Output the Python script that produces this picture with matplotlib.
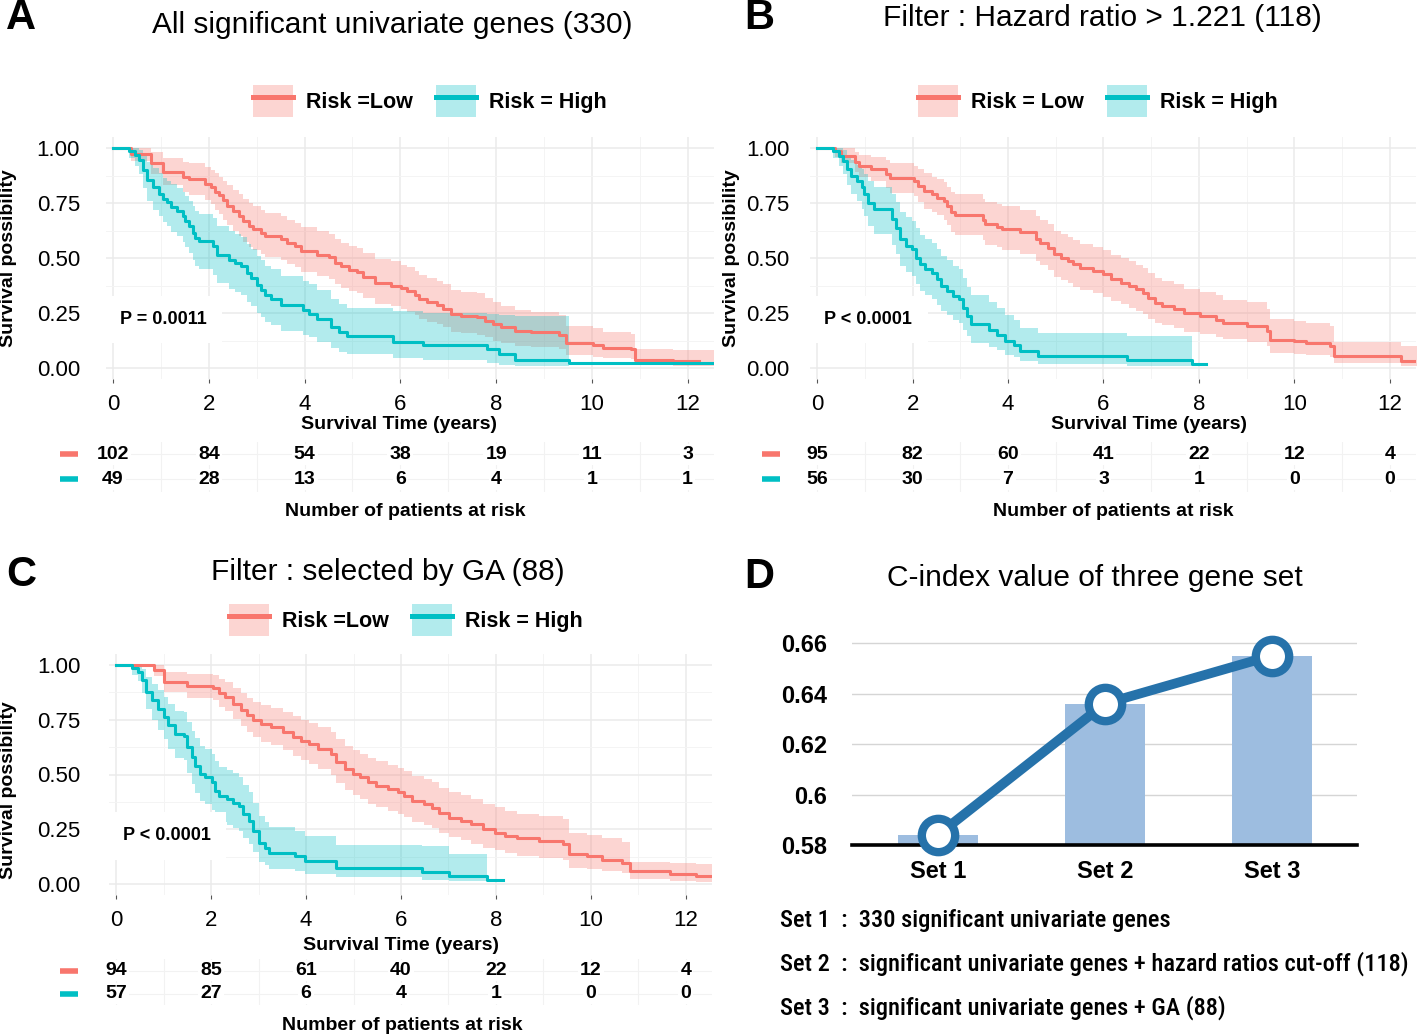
import numpy as np
import matplotlib
matplotlib.use('Agg')
import matplotlib.pyplot as plt
from matplotlib.patches import Patch
from matplotlib.lines import Line2D
from matplotlib.legend_handler import HandlerTuple
from matplotlib.ticker import FormatStrFormatter
from matplotlib import font_manager

# ---------------- data ----------------
risk_times = [0, 2, 4, 6, 8, 10, 12]

# Panel A
A_low_t = [0, 0.38, 0.79, 1.04, 1.46, 1.59, 1.92, 2.05, 2.13, 2.21, 2.30, 2.38, 2.50, 2.63, 2.71, 2.84, 2.92,
           3.09, 3.17, 3.51, 3.63, 3.80, 3.92, 4.26, 4.51, 4.63, 4.76, 4.93, 5.09, 5.22, 5.47, 5.80, 6.01,
           6.14, 6.30, 6.39, 6.55, 6.76, 6.89, 7.05, 7.26, 7.60, 7.76, 7.93, 8.10, 8.39, 8.72, 9.31, 9.47,
           10.02, 10.23, 10.81, 10.89, 11.69]
A_low_s = [1.0, 0.972, 0.931, 0.892, 0.869, 0.857, 0.838, 0.823, 0.800, 0.785, 0.762, 0.738, 0.715, 0.692, 0.669,
           0.646, 0.631, 0.615, 0.600, 0.585, 0.569, 0.554, 0.531, 0.515, 0.503, 0.477, 0.462, 0.446, 0.438, 0.415,
           0.385, 0.374, 0.362, 0.349, 0.331, 0.315, 0.300, 0.285, 0.269, 0.246, 0.238, 0.231, 0.215, 0.200, 0.185,
           0.169, 0.162, 0.149, 0.115, 0.105, 0.092, 0.085, 0.038, 0.031]
A_low_lo = [1.0, 0.94, 0.88, 0.83, 0.80, 0.785, 0.765, 0.745, 0.72, 0.70, 0.675, 0.65, 0.625, 0.60, 0.575, 0.55,
            0.535, 0.52, 0.505, 0.49, 0.475, 0.46, 0.435, 0.42, 0.405, 0.38, 0.365, 0.35, 0.34, 0.32, 0.29, 0.28,
            0.27, 0.255, 0.24, 0.225, 0.21, 0.20, 0.185, 0.165, 0.16, 0.15, 0.14, 0.125, 0.115, 0.10, 0.095, 0.085,
            0.06, 0.05, 0.045, 0.04, 0.012, 0.008]
A_low_hi = [1.0, 1.0, 0.98, 0.955, 0.935, 0.93, 0.915, 0.90, 0.885, 0.87, 0.85, 0.83, 0.81, 0.79, 0.77, 0.75,
            0.735, 0.72, 0.705, 0.69, 0.675, 0.66, 0.64, 0.625, 0.61, 0.585, 0.57, 0.555, 0.545, 0.525, 0.495,
            0.485, 0.47, 0.46, 0.44, 0.425, 0.41, 0.395, 0.38, 0.355, 0.345, 0.34, 0.32, 0.30, 0.28, 0.265, 0.255,
            0.24, 0.19, 0.18, 0.165, 0.155, 0.085, 0.08]
A_low_end, A_low_band_end = 12.23, 12.55

A_high_t = [0, 0.33, 0.46, 0.54, 0.63, 0.71, 0.84, 0.96, 1.04, 1.13, 1.21, 1.34, 1.46, 1.50, 1.59, 1.67, 1.71,
            1.80, 2.09, 2.17, 2.42, 2.55, 2.67, 2.80, 2.88, 3.01, 3.09, 3.17, 3.30, 3.51, 3.97, 4.09, 4.26, 4.55,
            4.72, 4.88, 5.84, 6.47, 7.81, 8.06, 8.39, 9.52]
A_high_s = [1.0, 0.985, 0.969, 0.946, 0.90, 0.854, 0.823, 0.792, 0.769, 0.754, 0.731, 0.715, 0.692, 0.669, 0.646,
            0.615, 0.592, 0.577, 0.554, 0.515, 0.492, 0.477, 0.462, 0.431, 0.408, 0.377, 0.354, 0.331, 0.315, 0.285,
            0.262, 0.246, 0.223, 0.185, 0.162, 0.146, 0.118, 0.103, 0.085, 0.062, 0.038, 0.023]
A_high_lo = [1.0, 0.955, 0.92, 0.88, 0.82, 0.76, 0.72, 0.69, 0.665, 0.645, 0.62, 0.60, 0.575, 0.55, 0.525, 0.49,
             0.465, 0.45, 0.425, 0.385, 0.36, 0.345, 0.33, 0.30, 0.28, 0.25, 0.23, 0.21, 0.195, 0.17, 0.15, 0.14,
             0.12, 0.09, 0.075, 0.065, 0.045, 0.035, 0.025, 0.015, 0.008, 0.023]
A_high_hi = [1.0, 1.0, 1.0, 0.99, 0.965, 0.935, 0.91, 0.885, 0.865, 0.85, 0.835, 0.82, 0.80, 0.78, 0.76, 0.735,
             0.715, 0.70, 0.68, 0.645, 0.625, 0.61, 0.595, 0.565, 0.54, 0.51, 0.49, 0.465, 0.45, 0.42, 0.395, 0.38,
             0.355, 0.315, 0.29, 0.275, 0.26, 0.25, 0.245, 0.24, 0.235, 0.023]
A_high_end, A_high_band_end = 12.55, 9.52

A_risk_low = [102, 84, 54, 38, 19, 11, 3]
A_risk_high = [49, 28, 13, 6, 4, 1, 1]

# Panel B
B_low_t = [0, 0.37, 0.50, 0.79, 0.87, 1.12, 1.45, 1.53, 2.03, 2.11, 2.23, 2.40, 2.52, 2.65, 2.73, 2.81, 2.89,
           3.47, 3.51, 3.76, 3.88, 4.26, 4.59, 4.67, 4.84, 4.96, 5.12, 5.25, 5.37, 5.50, 5.79, 5.99, 6.16, 6.36,
           6.53, 6.69, 6.82, 6.94, 7.07, 7.23, 7.48, 7.69, 8.02, 8.35, 8.51, 9.01, 9.42, 9.50, 10.0, 10.25,
           10.74, 10.83, 12.23]
B_low_s = [1.0, 0.985, 0.965, 0.935, 0.92, 0.904, 0.881, 0.862, 0.851, 0.828, 0.805, 0.79, 0.775, 0.76, 0.737,
           0.707, 0.695, 0.673, 0.653, 0.643, 0.631, 0.618, 0.585, 0.57, 0.547, 0.517, 0.502, 0.486, 0.471, 0.456,
           0.441, 0.426, 0.403, 0.388, 0.372, 0.357, 0.342, 0.319, 0.296, 0.284, 0.269, 0.251, 0.236, 0.22, 0.205,
           0.193, 0.167, 0.129, 0.122, 0.114, 0.099, 0.056, 0.03]
B_low_lo = [1.0, 0.96, 0.93, 0.89, 0.87, 0.85, 0.82, 0.795, 0.78, 0.755, 0.725, 0.71, 0.695, 0.675, 0.65, 0.62,
            0.605, 0.58, 0.56, 0.55, 0.535, 0.52, 0.485, 0.47, 0.445, 0.415, 0.40, 0.385, 0.37, 0.355, 0.34, 0.325,
            0.305, 0.29, 0.275, 0.26, 0.245, 0.225, 0.205, 0.195, 0.18, 0.165, 0.155, 0.14, 0.13, 0.12, 0.10, 0.07,
            0.065, 0.06, 0.05, 0.022, 0.01]
B_low_hi = [1.0, 1.0, 1.0, 0.98, 0.97, 0.96, 0.945, 0.93, 0.92, 0.905, 0.885, 0.87, 0.86, 0.845, 0.825, 0.80,
            0.79, 0.77, 0.755, 0.745, 0.735, 0.72, 0.69, 0.675, 0.655, 0.625, 0.61, 0.595, 0.58, 0.565, 0.55, 0.535,
            0.515, 0.50, 0.485, 0.47, 0.455, 0.43, 0.41, 0.395, 0.38, 0.36, 0.345, 0.33, 0.31, 0.30, 0.27, 0.225,
            0.215, 0.205, 0.19, 0.12, 0.10]
B_low_end, B_low_band_end = 12.6, 12.6

B_high_t = [0, 0.33, 0.46, 0.54, 0.62, 0.70, 0.83, 0.95, 0.99, 1.07, 1.20, 1.57, 1.65, 1.74, 1.86, 1.98, 2.07,
            2.15, 2.27, 2.40, 2.52, 2.60, 2.73, 2.85, 2.98, 3.06, 3.14, 3.22, 3.60, 3.76, 3.93, 4.13, 4.26, 4.63,
            6.49, 7.85]
B_high_s = [1.0, 0.985, 0.965, 0.942, 0.904, 0.874, 0.851, 0.821, 0.79, 0.752, 0.722, 0.676, 0.638, 0.585, 0.555,
            0.54, 0.502, 0.471, 0.448, 0.433, 0.403, 0.372, 0.35, 0.327, 0.312, 0.274, 0.236, 0.198, 0.175, 0.152,
            0.122, 0.106, 0.076, 0.056, 0.038, 0.02]
B_high_lo = [1.0, 0.955, 0.92, 0.88, 0.83, 0.79, 0.76, 0.725, 0.69, 0.645, 0.61, 0.56, 0.52, 0.465, 0.435, 0.42,
             0.38, 0.35, 0.33, 0.315, 0.285, 0.26, 0.24, 0.22, 0.205, 0.175, 0.145, 0.115, 0.095, 0.08, 0.06, 0.05,
             0.03, 0.02, 0.01, 0.02]
B_high_hi = [1.0, 1.0, 1.0, 0.99, 0.965, 0.945, 0.925, 0.905, 0.88, 0.85, 0.825, 0.79, 0.755, 0.71, 0.685, 0.67,
             0.635, 0.605, 0.585, 0.57, 0.54, 0.51, 0.49, 0.465, 0.45, 0.41, 0.37, 0.33, 0.30, 0.275, 0.24, 0.22,
             0.18, 0.16, 0.145, 0.02]
B_high_end, B_high_band_end = 8.14, 7.85

B_risk_low = [95, 82, 60, 41, 22, 12, 4]
B_risk_high = [56, 30, 7, 3, 1, 0, 0]

# Panel C
C_low_t = [0, 0.79, 1.00, 1.50, 2.05, 2.17, 2.30, 2.47, 2.63, 2.76, 2.89, 3.05, 3.26, 3.51, 3.72, 3.89, 4.06,
           4.26, 4.52, 4.64, 4.81, 4.98, 5.14, 5.31, 5.48, 5.73, 5.94, 6.06, 6.23, 6.48, 6.65, 6.81, 7.02, 7.27,
           7.48, 7.73, 7.99, 8.19, 8.45, 8.91, 9.41, 9.53, 9.91, 10.24, 10.66, 10.83, 11.66, 12.21]
C_low_s = [1.0, 0.977, 0.923, 0.903, 0.893, 0.87, 0.855, 0.824, 0.793, 0.77, 0.747, 0.729, 0.717, 0.694, 0.671,
           0.655, 0.64, 0.617, 0.594, 0.556, 0.525, 0.502, 0.487, 0.464, 0.449, 0.433, 0.418, 0.403, 0.38, 0.364,
           0.349, 0.326, 0.303, 0.288, 0.273, 0.25, 0.234, 0.219, 0.208, 0.196, 0.181, 0.135, 0.127, 0.112, 0.096,
           0.058, 0.046, 0.035]
C_low_lo = [1.0, 0.95, 0.875, 0.85, 0.84, 0.81, 0.79, 0.755, 0.72, 0.695, 0.67, 0.65, 0.635, 0.61, 0.585, 0.565,
            0.55, 0.525, 0.50, 0.46, 0.43, 0.405, 0.39, 0.365, 0.35, 0.335, 0.32, 0.305, 0.285, 0.27, 0.255, 0.235,
            0.215, 0.20, 0.185, 0.165, 0.155, 0.14, 0.13, 0.12, 0.11, 0.075, 0.07, 0.06, 0.05, 0.022, 0.015, 0.01]
C_low_hi = [1.0, 1.0, 0.97, 0.96, 0.955, 0.935, 0.92, 0.895, 0.87, 0.85, 0.83, 0.815, 0.805, 0.785, 0.765, 0.75,
            0.735, 0.715, 0.695, 0.66, 0.63, 0.61, 0.595, 0.575, 0.56, 0.545, 0.53, 0.515, 0.495, 0.48, 0.465, 0.44,
            0.42, 0.405, 0.39, 0.365, 0.35, 0.335, 0.32, 0.31, 0.295, 0.235, 0.225, 0.21, 0.19, 0.10, 0.095, 0.09]
C_low_end, C_low_band_end = 12.55, 12.55

C_high_t = [0, 0.33, 0.46, 0.54, 0.63, 0.75, 0.88, 1.00, 1.09, 1.25, 1.42, 1.50, 1.59, 1.67, 1.76, 1.88, 2.01,
            2.09, 2.17, 2.34, 2.47, 2.59, 2.68, 2.80, 2.89, 3.01, 3.14, 3.22, 3.76, 3.97, 4.64, 6.44, 7.02, 7.82]
C_high_s = [1.0, 0.985, 0.969, 0.931, 0.877, 0.839, 0.801, 0.763, 0.724, 0.686, 0.678, 0.625, 0.579, 0.541, 0.502,
            0.487, 0.464, 0.426, 0.403, 0.387, 0.372, 0.357, 0.319, 0.288, 0.242, 0.188, 0.165, 0.142, 0.127, 0.107,
            0.074, 0.055, 0.035, 0.02]
C_high_lo = [1.0, 0.955, 0.925, 0.87, 0.80, 0.75, 0.705, 0.66, 0.615, 0.575, 0.565, 0.505, 0.455, 0.415, 0.38,
             0.365, 0.34, 0.305, 0.285, 0.27, 0.255, 0.24, 0.21, 0.185, 0.145, 0.10, 0.085, 0.07, 0.06, 0.045, 0.03,
             0.02, 0.012, 0.02]
C_high_hi = [1.0, 1.0, 1.0, 0.98, 0.945, 0.915, 0.885, 0.855, 0.82, 0.79, 0.785, 0.74, 0.70, 0.665, 0.63, 0.615,
             0.595, 0.56, 0.535, 0.52, 0.505, 0.49, 0.45, 0.42, 0.37, 0.31, 0.285, 0.26, 0.24, 0.22, 0.18, 0.175,
             0.135, 0.02]
C_high_end, C_high_band_end = 8.15, 7.82

C_risk_low = [94, 85, 61, 40, 22, 12, 4]
C_risk_high = [57, 27, 6, 4, 1, 0, 0]

# Panel D
set_labels = ['Set 1', 'Set 2', 'Set 3']
cindex = [0.584, 0.636, 0.655]
d_yticks = [0.58, 0.60, 0.62, 0.64, 0.66]
d_yticklabels = ['0.58', '0.6', '0.62', '0.64', '0.66']
set_desc = ['Set 1  :  330 significant univariate genes',
            'Set 2  :  significant univariate genes + hazard ratios cut-off (118)',
            'Set 3  :  significant univariate genes + GA (88)']

titles = ['All significant univariate genes (330)', 'Filter : Hazard ratio > 1.221 (118)',
          'Filter : selected by GA (88)', 'C-index value of three gene set']
legend_labels = {'A': ['Risk =Low', 'Risk = High'], 'B': ['Risk = Low', 'Risk = High'],
                 'C': ['Risk =Low', 'Risk = High']}
pvals = {'A': 'P = 0.0011', 'B': 'P < 0.0001', 'C': 'P < 0.0001'}

# ---------------- style / layout ----------------
W, H = 1418, 1036
plt.rcParams['font.family'] = ['Liberation Sans', 'DejaVu Sans']
RED = '#F8766D'
TEAL = '#00BFC4'

fig = plt.figure(figsize=(W / 100, H / 100), dpi=100)
fig.patch.set_facecolor('white')


def rect(l, t, r, b):
    return [l / W, 1 - b / H, (r - l) / W, (b - t) / H]


def fx(x):
    return x / W


def fy(y):
    return 1 - y / H


XLIM = (-0.15, 12.55)


def km_curve(ax, t, s, lo, hi, t_end, band_end, color):
    t = np.asarray(t, float)
    s = np.asarray(s, float)
    lo = np.asarray(lo, float)
    hi = np.asarray(hi, float)
    m = t < band_end
    xb = np.append(t[m], band_end)
    ax.fill_between(xb, np.append(lo[m], lo[m][-1]), np.append(hi[m], hi[m][-1]),
                    step='post', color=color, alpha=0.3, lw=0, zorder=2)
    return np.append(t, t_end), np.append(s, s[-1])


def km_panel(rect_ax, low, high, pval, ypad):
    ax = fig.add_axes(rect_ax)
    ax.set_xlim(*XLIM)
    ax.set_ylim(-0.05, 1.05)
    lines = []
    for (t, s, lo, hi, te, be), c in ((low, RED), (high, TEAL)):
        lines.append((km_curve(ax, t, s, lo, hi, te, be, c), c))
    for (x, y), c in lines:
        ax.step(x, y, where='post', color=c, lw=2.2, zorder=4)
    ax.set_xticks(range(0, 13, 2))
    ax.set_xticks(range(1, 13, 2), minor=True)
    ax.set_yticks([0, 0.25, 0.5, 0.75, 1.0])
    ax.set_yticks([0.125, 0.375, 0.625, 0.875], minor=True)
    ax.yaxis.set_major_formatter(FormatStrFormatter('%.2f'))
    ax.grid(which='major', color='#EBEBEB', lw=1.1)
    ax.grid(which='minor', color='#F4F4F4', lw=0.7)
    ax.set_axisbelow(True)
    for sp in ax.spines.values():
        sp.set_visible(False)
    ax.tick_params(axis='x', which='major', length=3, width=0.8, color='#555555', pad=8, labelsize=16)
    ax.tick_params(axis='x', which='minor', length=0)
    ax.tick_params(axis='y', which='both', length=0, pad=ypad, labelsize=16)
    ax.text(0.15, 0.22, pval, fontsize=13, fontweight='bold', va='center', ha='left', zorder=3,
            bbox=dict(fc='white', ec='none', pad=11))
    return ax


def risk_table(rect_ax, r_low, r_high, dash_l, dash_r):
    ax = fig.add_axes(rect_ax)
    ax.set_xlim(*XLIM)
    ax.set_ylim(-0.5, 1.5)
    ax.set_xticks(range(0, 13, 2))
    ax.set_xticks(range(1, 13, 2), minor=True)
    ax.set_yticks([0, 1])
    ax.grid(which='both', axis='x', color='#F2F2F2', lw=0.8)
    ax.grid(which='major', axis='y', color='#F2F2F2', lw=0.8)
    ax.set_axisbelow(True)
    ax.tick_params(length=0, labelbottom=False, labelleft=False, which='both')
    for sp in ax.spines.values():
        sp.set_visible(False)
    for tt, a, b in zip(risk_times, r_low, r_high):
        ax.text(tt, 1, str(a), ha='center', va='center', fontsize=14, fontweight='bold',
                bbox=dict(fc='white', ec='none', pad=1.5))
        ax.text(tt, 0, str(b), ha='center', va='center', fontsize=14, fontweight='bold',
                bbox=dict(fc='white', ec='none', pad=1.5))
    tr = ax.get_yaxis_transform()
    ax.plot([dash_l, dash_r], [1, 1], color=RED, lw=4, transform=tr, clip_on=False, solid_capstyle='butt')
    ax.plot([dash_l, dash_r], [0, 0], color=TEAL, lw=4, transform=tr, clip_on=False, solid_capstyle='butt')
    return ax


def legend(labels, cx, cy):
    handles = [(Patch(fc=RED, alpha=0.3, ec='none'), Line2D([], [], color=RED, lw=3.6)),
               (Patch(fc=TEAL, alpha=0.3, ec='none'), Line2D([], [], color=TEAL, lw=3.6))]
    fig.legend(handles, labels, handler_map={tuple: HandlerTuple(ndivide=1, pad=0)}, ncol=2, loc='center',
               bbox_to_anchor=(fx(cx), fy(cy)), frameon=False, prop={'weight': 'bold', 'size': 15.5},
               handlelength=1.85, handleheight=1.85, handletextpad=0.6, columnspacing=1.1, borderpad=0)


# ---- Panel A ----
axA = km_panel(rect(105.8, 137, 714, 379),
               (A_low_t, A_low_s, A_low_lo, A_low_hi, A_low_end, A_low_band_end),
               (A_high_t, A_high_s, A_high_lo, A_high_hi, A_high_end, A_high_band_end), pvals['A'], 18.5)
risk_table(rect(105.8, 442, 714, 492), A_risk_low, A_risk_high, (60 - 105.8) / 608, (78 - 105.8) / 608)

# ---- Panel B ----
axB = km_panel(rect(810, 137, 1416, 379),
               (B_low_t, B_low_s, B_low_lo, B_low_hi, B_low_end, B_low_band_end),
               (B_high_t, B_high_s, B_high_lo, B_high_hi, B_high_end, B_high_band_end), pvals['B'], 14.5)
risk_table(rect(810, 442, 1416, 492), B_risk_low, B_risk_high, (762 - 810) / 606, (780 - 810) / 606)

# ---- Panel C ----
axC = km_panel(rect(109, 654, 712, 895),
               (C_low_t, C_low_s, C_low_lo, C_low_hi, C_low_end, C_low_band_end),
               (C_high_t, C_high_s, C_high_lo, C_high_hi, C_high_end, C_high_band_end), pvals['C'], 20.5)
risk_table(rect(109, 959, 712, 1005), C_risk_low, C_risk_high, (60 - 109) / 603, (78 - 109) / 603)

# axis texts
for x, y in ((9, 258), (732, 258), (9, 790)):
    fig.text(fx(x), fy(y), 'Survival possibility', rotation=90, ha='center', va='center',
             fontsize=14, fontweight='bold')
for x, y in ((399, 424), (1149, 424), (401, 946)):
    fig.text(fx(x), fy(y), 'Survival Time (years)', ha='center', va='center', fontsize=14, fontweight='bold')
for x, y in ((405, 512), (1113, 512), (402, 1025)):
    fig.text(fx(x), fy(y), 'Number of patients at risk', ha='center', va='center', fontsize=14,
             fontweight='bold')

# titles & letters
for (x, y), ttl in zip(((392, 25), (1102, 18), (388, 572), (1095, 578)), titles):
    fig.text(fx(x), fy(y), ttl, ha='center', va='center', fontsize=21.5)
for (x, y), let in zip(((21, 18), (759, 18), (21, 575), (759, 577)), 'ABCD'):
    fig.text(fx(x), fy(y), let, ha='center', va='center', fontsize=30, fontweight='bold')

legend(legend_labels['A'], 430, 101)
legend(legend_labels['B'], 1098, 101)
legend(legend_labels['C'], 406, 620)

# ---- Panel D ----
axD = fig.add_axes(rect(852, 640, 1357, 845))
xpos = np.arange(len(set_labels))
axD.set_xlim(-0.515, 2.51)
axD.set_ylim(0.58, 0.6612)
axD.bar(xpos, cindex, width=0.48, color='#9DBDE0', zorder=2)
axD.axhline(0.58, color='black', lw=2.6, zorder=3, clip_on=False)
axD.plot(xpos, cindex, color='#2672AA', lw=7, marker='o', ms=24, mfc='white', mec='#2672AA', mew=6,
         zorder=5, clip_on=False)
axD.set_yticks(d_yticks)
axD.set_yticklabels(d_yticklabels, fontsize=17, fontweight='bold')
axD.set_xticks(xpos)
axD.set_xticklabels(set_labels, fontsize=17, fontweight='bold')
axD.yaxis.grid(True, color='#D5D5D5', lw=1.0)
axD.set_axisbelow(True)
for sp in axD.spines.values():
    sp.set_visible(False)
axD.tick_params(axis='y', length=0, pad=18)
axD.tick_params(axis='x', length=0, pad=11)

# description lines, scaled to the measured width
names = {f.name for f in font_manager.fontManager.ttflist}
if 'Liberation Sans Narrow' in names:
    desc_family = ['Liberation Sans Narrow', 'Liberation Sans']
elif 'Roboto Condensed' in names:
    desc_family = ['Roboto Condensed', 'Liberation Sans']
elif 'Roboto' in names:
    desc_family = ['Roboto', 'Liberation Sans']
else:
    desc_family = ['Liberation Sans']
desc_texts = []
for y, line in zip((920, 964, 1008), set_desc):
    desc_texts.append(fig.text(fx(780), fy(y), line, ha='left', va='center', fontsize=16,
                               family=desc_family, fontweight='medium'))
fig.canvas.draw()
r = fig.canvas.get_renderer()
wmax = max(t.get_window_extent(r).width for t in desc_texts)
scale = 630.0 / wmax
for t in desc_texts:
    t.set_fontsize(16 * scale)

fig.savefig('out.png', dpi=100)
